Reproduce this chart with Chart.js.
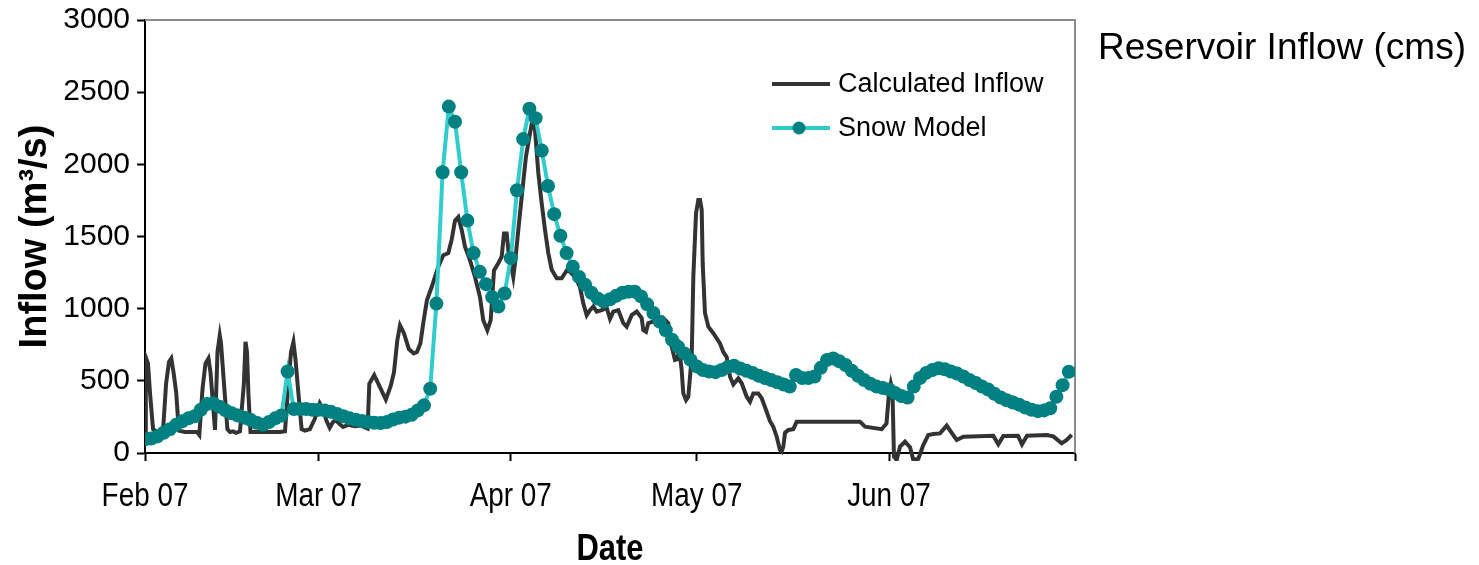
<!DOCTYPE html>
<html>
<head>
<meta charset="utf-8">
<script src="https://cdn.jsdelivr.net/npm/chart.js@4"></script>
<style>
  html, body { margin: 0; padding: 0; background: #fff; }
  #wrap { position: relative; width: 1479px; height: 565px; }
</style>
</head>
<body>
<div id="wrap"><canvas id="inflowChart"></canvas></div>
<script>
'use strict';

// days counted from Feb 1 2007
const tickDays = [0, 28, 59, 89, 120, 150];
const tickLabels = ['Feb 07', 'Mar 07', 'Apr 07', 'May 07', 'Jun 07', ''];

// Snow model, one value per day (Feb 1 .. Jun 30)
const snowFeb = [95, 100, 115, 140, 165, 195, 220, 240, 255, 300, 340, 345, 320, 295,
    275, 260, 245, 230, 210, 195, 215, 240, 260, 565, 305, 305, 305, 300];
const snowMar = [300, 295, 285, 270, 255, 240, 230, 222, 215, 210, 208, 215, 232, 245,
    252, 265, 295, 330, 445, 1035, 1945, 2400, 2295, 1945, 1610, 1385, 1255, 1170, 1080, 1015, 1105];
const snowApr = [1350, 1820, 2175, 2385, 2320, 2095, 1850, 1655, 1505, 1385, 1290, 1220,
    1165, 1110, 1070, 1050, 1065, 1090, 1110, 1118, 1118, 1085, 1030, 970, 910, 850, 785, 735, 690, 645];
const snowMay = [600, 575, 565, 560, 575, 595, 605, 585, 570, 555, 535, 520, 505, 490,
    475, 460, 540, 520, 520, 530, 590, 645, 655, 635, 610, 570, 535, 505, 480, 460, 450];
const snowJun = [440, 415, 395, 385, 460, 520, 555, 575, 587, 580, 565, 550, 530, 505,
    485, 460, 440, 410, 385, 365, 350, 335, 315, 300, 290, 295, 310, 390, 470, 563];
const snowModel = [...snowFeb, ...snowMar, ...snowApr, ...snowMay, ...snowJun];

// Calculated inflow, irregular time steps (day, m3/s)
const inflowDays = [
    0.0, 0.13, 0.27, 0.48, 0.8, 1.3, 1.8, 2.9, 3.4, 3.87, 4.24, 4.6, 5.03, 5.45, 6.45, 7.58,
    8.39, 8.76, 9.29, 9.76, 10.24, 10.56, 10.89, 11.29, 11.69, 12.06, 12.26, 12.74, 13.29, 13.71,
    14.19, 14.68, 15.32, 15.95, 16.21, 16.45, 16.69, 17.02, 18.55, 20.16, 21.77, 22.58, 23.13,
    23.55, 23.94, 24.27, 24.73, 25.26, 25.8, 26.6, 27.39, 28.19, 28.71, 29.26, 29.79, 30.32,
    30.85, 31.39, 31.94, 32.74, 33.87, 34.84, 35.9, 36.18, 36.97, 38.03, 38.84, 39.63, 40.16,
    40.69, 41.13, 41.76, 42.56, 43.35, 43.87, 44.42, 44.95, 45.48, 46.24, 46.77, 47.31, 48.11,
    48.92, 49.47, 50.0, 50.53, 51.08, 51.61, 52.42, 53.23, 54.03, 54.56, 55.21, 55.76, 56.29,
    56.98, 57.53, 57.9, 58.34, 58.6, 59.4, 59.68, 60.21, 60.76, 61.45, 62.1, 62.53, 62.9, 63.44,
    63.98, 64.52, 65.05, 65.6, 66.4, 67.21, 68.02, 68.55, 69.35, 70.16, 70.69, 71.24, 71.77,
    72.31, 72.85, 73.66, 74.47, 75.0, 75.53, 76.34, 77.15, 77.69, 78.5, 79.31, 80.11, 80.37,
    80.81, 81.18, 81.98, 82.79, 83.6, 84.4, 84.95, 85.48, 85.85, 86.18, 86.56, 86.82, 87.26,
    87.63, 88.18, 88.44, 88.87, 89.24, 89.52, 89.79, 89.95, 90.32, 90.86, 91.66, 92.74, 93.27,
    93.82, 94.35, 94.89, 95.69, 96.24, 97.05, 97.58, 98.11, 98.92, 99.47, 100.27, 100.81,
    101.34, 101.89, 102.42, 102.69, 102.95, 103.23, 103.76, 104.56, 105.11, 115.32, 116.13,
    118.82, 119.6, 119.97, 120.3, 120.56, 120.8, 121.24, 121.77, 122.58, 123.39, 123.92,
    124.73, 125.53, 126.34, 127.15, 128.23, 129.31, 130.11, 130.92, 132.0, 136.82, 137.63,
    138.44, 140.8, 141.45, 142.26, 145.44, 146.5, 147.85, 148.66, 149.47
];
const inflowValues = [
    90, 560, 645, 620, 420, 165, 150, 148, 480, 630, 655, 560, 420, 155, 145, 145,
    145, 125, 450, 620, 655, 560, 380, 160, 700, 815, 760, 480, 165, 145,
    150, 140, 150, 480, 770, 700, 400, 145, 145, 145, 145, 150, 480,
    700, 770, 650, 420, 165, 155, 165, 237, 345, 305, 225, 175, 215,
    225, 200, 180, 195, 185, 190, 170, 480, 540, 445, 370, 465, 560,
    780, 885, 830, 720, 690, 700, 760, 920, 1060, 1150, 1220, 1290, 1370,
    1385, 1480, 1610, 1635, 1545, 1430, 1335, 1220, 1080, 920, 850, 920, 1265,
    1315, 1360, 1520, 1520, 1405, 1220, 1315, 1545, 1775, 2055, 2215, 2320, 2240, 1940,
    1730, 1545, 1385, 1270, 1210, 1210, 1265, 1255, 1220, 1150, 1037, 955, 990,
    1015, 980, 990, 1005, 930, 980, 990, 900, 875, 955, 980, 935, 852,
    840, 900, 910, 900, 935, 900, 737, 645, 650, 715, 575, 413, 367,
    390, 665, 1220, 1660, 1753, 1753, 1685, 1315, 970, 875, 830, 760, 700,
    665, 530, 475, 517, 483, 390, 356, 413, 413, 379, 286, 220,
    182, 113, 21, 10, 44, 140, 160, 165, 217, 217, 182,
    165, 205, 400, 480, 430, -25, -48, 44, 78, 40, -48,
    -40, 55, 125, 132, 136, 190, 140, 90, 113, 120, 60,
    118, 120, 60, 120, 125, 115, 67, 90, 125
];

const FONT = "'Liberation Sans', Arial, sans-serif";

const colors = {
    inflow: '#333333',
    snowLine: '#33CCCC',
    snowPoint: '#008080',
    frame: '#8c8c8c'
};

// gray top/right edge of the plot box
const plotFrame = {
    id: 'plotFrame',
    beforeDatasetsDraw(chart) {
        const { ctx, chartArea: a } = chart;
        ctx.save();
        ctx.strokeStyle = colors.frame;
        ctx.lineWidth = 2;
        ctx.beginPath();
        ctx.moveTo(a.left, a.top);
        ctx.lineTo(a.right, a.top);
        ctx.lineTo(a.right, a.bottom);
        ctx.stroke();
        ctx.restore();
    }
};

// text squeezed horizontally (narrow face for the date axis)
function narrowText(ctx, text, x, y, squeeze) {
    ctx.save();
    ctx.translate(x, y);
    ctx.scale(squeeze, 1);
    ctx.fillText(text, 0, 0);
    ctx.restore();
}

// month labels, axis titles, legend and the caption on the right
const sideText = {
    id: 'sideText',
    afterDraw(chart) {
        const ctx = chart.ctx;
        const xScale = chart.scales.x;
        const area = chart.chartArea;
        ctx.save();
        ctx.textBaseline = 'middle';
        ctx.fillStyle = '#000';

        // month labels under the axis
        ctx.textAlign = 'center';
        ctx.font = '34px ' + FONT;
        tickDays.forEach((d, i) => {
            if (tickLabels[i]) {
                narrowText(ctx, tickLabels[i], xScale.getPixelForValue(d), 497, 0.82);
            }
        });

        ctx.font = 'bold 36px ' + FONT;
        narrowText(ctx, 'Date', (area.left + area.right) / 2, 550, 0.86);

        // y axis title
        ctx.save();
        ctx.translate(36, (area.top + area.bottom) / 2);
        ctx.rotate(-Math.PI / 2);
        ctx.font = 'bold 38px ' + FONT;
        ctx.fillText('Inflow (m³/s)', 0, 0);
        ctx.restore();

        // legend
        ctx.textAlign = 'left';
        ctx.font = '27px ' + FONT;
        ctx.strokeStyle = colors.inflow;
        ctx.lineWidth = 4;
        ctx.beginPath();
        ctx.moveTo(772, 84);
        ctx.lineTo(830, 84);
        ctx.stroke();
        ctx.fillText('Calculated Inflow', 838, 85);

        ctx.strokeStyle = colors.snowLine;
        ctx.lineWidth = 4;
        ctx.beginPath();
        ctx.moveTo(772, 128);
        ctx.lineTo(830, 128);
        ctx.stroke();
        ctx.fillStyle = colors.snowPoint;
        ctx.beginPath();
        ctx.arc(799, 128, 6.5, 0, Math.PI * 2);
        ctx.fill();
        ctx.fillStyle = '#000';
        ctx.fillText('Snow Model', 838, 129);

        ctx.font = '37px ' + FONT;
        ctx.fillText('Reservoir Inflow (cms)', 1098, 49);
        ctx.restore();
    }
};

const ctx = document.getElementById('inflowChart').getContext('2d');
const chart = new Chart(ctx, {
    type: 'line',
    data: {
        datasets: [{
            label: 'Snow Model',
            data: snowModel.map((v, i) => ({ x: i, y: v })),
            borderColor: colors.snowLine,
            borderWidth: 4,
            pointRadius: 7,
            pointBackgroundColor: colors.snowPoint,
            pointBorderWidth: 0,
            tension: 0,
            order: 0
        }, {
            label: 'Calculated Inflow',
            data: inflowDays.map((d, i) => ({ x: d, y: inflowValues[i] })),
            borderColor: colors.inflow,
            borderWidth: 4,
            pointRadius: 0,
            tension: 0,
            clip: { left: 0, top: 0, right: 0, bottom: 8 },
            order: 1
        }]
    },
    options: {
        responsive: true,
        maintainAspectRatio: false,
        animation: false,
        layout: { padding: { left: 0, top: 20, right: 404, bottom: 0 } },
        plugins: {
            legend: { display: false },
            tooltip: { enabled: false }
        },
        scales: {
            x: {
                type: 'linear',
                min: 0,
                max: 150,
                afterBuildTicks: (scale) => {
                    scale.ticks = tickDays.map(v => ({ value: v }));
                },
                afterFit: (scale) => {
                    scale.height = 112;
                    scale.paddingLeft = 0;
                    scale.paddingRight = 0;
                },
                ticks: { display: false },
                grid: {
                    drawOnChartArea: false,
                    drawTicks: true,
                    tickLength: 8,
                    tickColor: '#000',
                    tickWidth: 2
                },
                border: { color: '#000', width: 2 }
            },
            y: {
                min: 0,
                max: 3000,
                afterFit: (scale) => {
                    scale.width = 145;
                    scale.paddingTop = 0;
                    scale.paddingBottom = 0;
                },
                ticks: {
                    stepSize: 500,
                    padding: 7,
                    color: '#000',
                    font: { family: FONT, size: 30 },
                    callback: (value) => String(value)
                },
                grid: {
                    drawOnChartArea: false,
                    drawTicks: true,
                    tickLength: 8,
                    tickColor: '#000',
                    tickWidth: 2
                },
                border: { color: '#000', width: 2 }
            }
        }
    },
    plugins: [plotFrame, sideText]
});
</script>
</body>
</html>
